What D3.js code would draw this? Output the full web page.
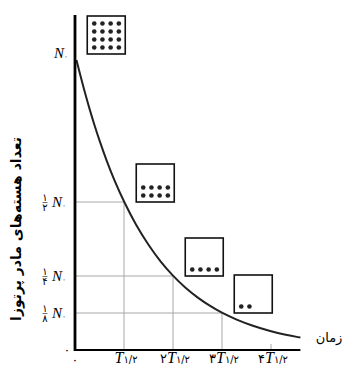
<!DOCTYPE html>
<html><head><meta charset="utf-8">
<script src="https://cdn.jsdelivr.net/npm/d3@7"></script>
<style>body{margin:0;background:#fff}svg{display:block}</style>
</head><body><svg id="c" width="354" height="367"></svg>
<script>
// ---- data ----
const fractionValues = [0.5, 0.25, 0.125];
const fractionDenoms = ["۲", "۴", "۸"];
const fractionNumer = "۱";
const timeTicks = [1, 2, 3, 4];
const timeTickPrefix = ["", "۲", "۳", "۴"];
const halfLifeSub = "۱/۲";
const zeroLabel = "۰";
const boxTimes = [0, 1, 2, 3];
const boxDotCounts = [16, 8, 4, 2];
const curveT = [0.03, 0.1, 0.2, 0.3, 0.4, 0.5, 0.65, 0.8, 1, 1.25, 1.5, 1.75, 2, 2.25, 2.5, 2.75, 3, 3.3, 3.6, 4, 4.3, 4.6];
const curveN = [0.98, 0.933, 0.871, 0.812, 0.758, 0.707, 0.637, 0.574, 0.5, 0.42, 0.354, 0.297, 0.25, 0.21, 0.177, 0.149, 0.125, 0.102, 0.083, 0.0625, 0.051, 0.042];
const yTitle = "تعداد هسته‌های مادر پرتوزا";
const xTitle = "زمان";

// ---- chart ----
const svg = d3.select("#c");
const x = d3.scaleLinear().domain([0, 4]).range([75, 271]);
const y = d3.scaleLinear().domain([0, 1]).range([350, 54]);
const gridColor = "#a8a8a8";
const serif = "'Liberation Serif','DejaVu Serif',serif";
const fa = "'DejaVu Sans',sans-serif";

// grid lines (to curve points)
svg.selectAll(".hg").data(fractionValues).join("line")
  .attr("x1", x(0)).attr("x2", (d, i) => x(i + 1))
  .attr("y1", d => y(d)).attr("y2", d => y(d))
  .attr("stroke", gridColor).attr("stroke-width", 1);
svg.selectAll(".vg").data(fractionValues).join("line")
  .attr("x1", (d, i) => x(i + 1)).attr("x2", (d, i) => x(i + 1))
  .attr("y1", d => y(d)).attr("y2", y(0))
  .attr("stroke", gridColor).attr("stroke-width", 1);
svg.append("line").attr("x1", x(4)).attr("x2", x(4)).attr("y1", y(0) - 6).attr("y2", y(0))
  .attr("stroke", gridColor).attr("stroke-width", 1);

// curve
const line = d3.line().x((d, i) => x(curveT[i])).y(d => y(d)).curve(d3.curveBasis);
svg.append("path").attr("d", line(curveN)).attr("fill", "none")
  .attr("stroke", "#222").attr("stroke-width", 2);

// axes
svg.append("line").attr("x1", x(0)).attr("x2", x(0)).attr("y1", 15).attr("y2", y(0) + 1)
  .attr("stroke", "#000").attr("stroke-width", 2.8);
svg.append("line").attr("x1", x(0) - 1).attr("x2", x(4.6)).attr("y1", y(0)).attr("y2", y(0))
  .attr("stroke", "#000").attr("stroke-width", 2.2);

// boxes
const bw = 38, bh = 38;
const boxes = svg.selectAll(".box").data(boxDotCounts).join("g")
  .attr("transform", (d, i) => `translate(${x(boxTimes[i] + 0.25)},${y(d / 16) - bh})`);
boxes.append("rect").attr("width", bw).attr("height", bh)
  .attr("fill", "#fff").attr("stroke", "#111").attr("stroke-width", 1.6);
boxes.each(function (d) {
  d3.select(this).selectAll("circle").data(d3.range(d)).join("circle")
    .attr("cx", k => 7 + (k % 4) * 8.2)
    .attr("cy", k => bh - 6.5 - Math.floor(k / 4) * 8)
    .attr("r", 2.3).attr("fill", "#222");
});

// y tick labels
const N0 = (g, xx, yy, fs) => {
  const t = g.append("text").attr("x", xx).attr("y", yy).attr("text-anchor", "end")
    .attr("font-family", serif).attr("font-size", fs);
  t.append("tspan").attr("font-style", "italic").text("N");
  t.append("tspan").attr("font-family", fa).attr("font-size", fs * 0.5).attr("dy", 1).text(zeroLabel);
};
N0(svg, 68, y(1) + 4, 15);
fractionValues.forEach((v, i) => {
  const g = svg.append("g");
  N0(g, 66, y(v) + 5, 15);
  g.append("text").attr("x", 45).attr("y", y(v) - 1.5).attr("text-anchor", "middle")
    .attr("font-family", fa).attr("font-size", 10).text(fractionNumer);
  g.append("line").attr("x1", 42.5).attr("x2", 47.5).attr("y1", y(v) + 0.5).attr("y2", y(v) + 0.5)
    .attr("stroke", "#333").attr("stroke-width", 0.7);
  g.append("text").attr("x", 45).attr("y", y(v) + 9).attr("text-anchor", "middle")
    .attr("font-family", fa).attr("font-size", 10).text(fractionDenoms[i]);
});
svg.append("text").attr("x", 67).attr("y", y(0) + 3).attr("text-anchor", "middle")
  .attr("font-family", fa).attr("font-size", 8).attr("font-weight", "bold").text(zeroLabel);

// x tick labels
svg.append("text").attr("x", x(0)).attr("y", 363).attr("text-anchor", "middle")
  .attr("font-family", fa).attr("font-size", 8).attr("font-weight", "bold").text(zeroLabel);
timeTicks.forEach((t, i) => {
  const tx = svg.append("text").attr("x", x(t) + 2).attr("y", 363).attr("text-anchor", "middle")
    .attr("font-family", serif).attr("font-size", 16);
  if (timeTickPrefix[i]) tx.append("tspan").attr("font-family", fa).attr("font-size", 13).text(timeTickPrefix[i]);
  tx.append("tspan").attr("font-style", "italic").text("T");
  tx.append("tspan").attr("font-family", fa).attr("font-size", 10).attr("dy", 0).text(halfLifeSub);
});

// titles
svg.append("text").attr("transform", `translate(21,229) rotate(-90)`)
  .attr("text-anchor", "middle").attr("font-family", fa).attr("font-weight", "bold")
  .attr("font-size", 14).text(yTitle);
svg.append("text").attr("x", 329).attr("y", 342).attr("text-anchor", "middle")
  .attr("font-family", fa).attr("font-size", 13).text(xTitle);
</script></body></html>
